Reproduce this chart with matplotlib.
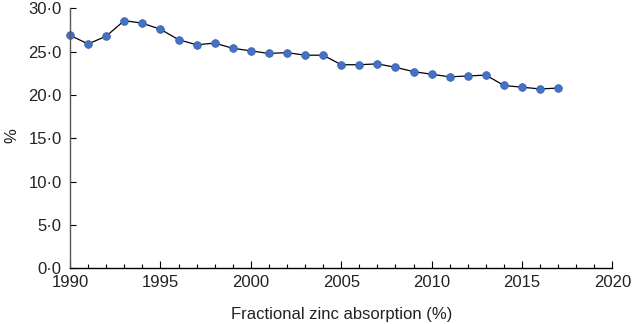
import numpy as np
import matplotlib.pyplot as plt
from matplotlib.ticker import FuncFormatter, MultipleLocator

# data
years = list(range(1990, 2018))
values = [26.9, 25.9, 26.8, 28.6, 28.3, 27.6, 26.4, 25.8, 26.0, 25.4,
          25.1, 24.8, 24.9, 24.6, 24.6, 23.5, 23.5, 23.6, 23.2, 22.7,
          22.4, 22.1, 22.2, 22.3, 21.1, 20.9, 20.7, 20.8]

plt.rcParams['font.family'] = ['Liberation Sans', 'DejaVu Sans']

fig = plt.figure(figsize=(6.33, 3.24), dpi=100)
ax = fig.add_axes([0.1106, 0.1728, 0.857, 0.801])

ax.plot(years, values, color='black', lw=0.9, marker='o', ms=5.5,
        markerfacecolor='#4472C4', markeredgecolor='#3A64AE', markeredgewidth=0.6,
        clip_on=False)

ax.set_xlim(1990, 2020)
ax.set_ylim(0, 30)
ax.xaxis.set_major_locator(MultipleLocator(5))
ax.xaxis.set_minor_locator(MultipleLocator(1))
ax.yaxis.set_major_locator(MultipleLocator(5))
ax.yaxis.set_major_formatter(FuncFormatter(lambda v, p: f"{v:.1f}".replace('.', '\u00b7')))

ax.tick_params(axis='x', which='major', direction='in', length=5, width=0.8,
               labelsize=12, pad=5, colors='black', labelcolor='#222222')
ax.tick_params(axis='x', which='minor', direction='in', length=3, width=0.8)
ax.tick_params(axis='y', which='major', direction='in', length=4, width=0.8,
               labelsize=12, pad=6, labelcolor='#222222')

for s in ['top', 'right']:
    ax.spines[s].set_visible(False)
ax.spines['left'].set_color('#555555')
ax.spines['left'].set_linewidth(1.0)
ax.spines['bottom'].set_color('black')
ax.spines['bottom'].set_linewidth(1.0)

ax.set_xlabel('Fractional zinc absorption (%)', fontsize=12, color='#222222', labelpad=12)
ax.set_ylabel('%', fontsize=12, color='#222222')
ax.yaxis.set_label_coords(-0.094, 0.51)

fig.savefig('out.png', dpi=100)
